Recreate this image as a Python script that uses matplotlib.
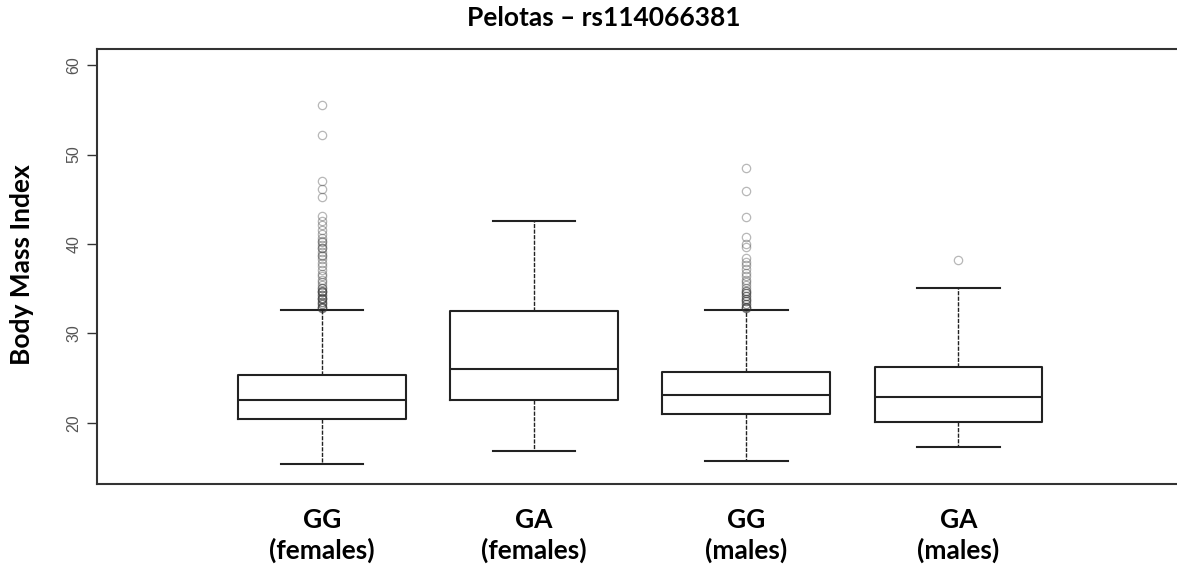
import matplotlib
matplotlib.use("Agg")
import matplotlib.pyplot as plt

# ---- data ----
categories = ["GG\n(females)", "GA\n(females)", "GG\n(males)", "GA\n(males)"]
q1 = [20.45, 22.57, 21.00, 20.10]
median = [22.57, 26.03, 23.13, 22.94]
q3 = [25.36, 32.51, 25.70, 26.26]
whisker_low = [15.42, 16.84, 15.79, 17.35]
whisker_high = [32.63, 42.60, 32.63, 35.12]
outliers_gg_f = [55.5, 52.2, 47.0, 46.1, 45.2, 43.1, 42.6, 42.1, 41.6, 41.1,
                 40.7, 40.3, 40.2, 39.9, 39.6, 39.5, 39.1, 38.8, 38.7, 38.3,
                 37.9, 37.5, 37.1, 36.7, 36.4, 36.0, 35.7, 35.4, 35.1, 35.1,
                 34.8, 34.8, 34.6, 34.6, 34.3, 34.3, 34.0, 34.0, 33.8, 33.8,
                 33.5, 33.5, 33.3, 33.3, 33.0, 33.0, 32.8, 32.8]
outliers_ga_f = []
outliers_gg_m = [48.5, 45.9, 43.0, 40.75, 40.0, 39.7, 38.4, 38.0, 37.6, 37.2,
                 36.8, 36.4, 36.0, 35.7, 35.4, 35.1, 34.8, 34.8, 34.5, 34.5,
                 34.2, 34.2, 33.9, 33.9, 33.6, 33.6, 33.3, 33.3, 33.0, 33.0,
                 32.8, 32.8]
outliers_ga_m = [38.25]
outliers = [outliers_gg_f, outliers_ga_f, outliers_gg_m, outliers_ga_m]
yticks = [20, 30, 40, 50, 60]

title = "Pelotas \u2013 rs114066381"
ylabel = "Body Mass Index"

# ---- figure ----
W, H = 1177, 572
fig = plt.figure(figsize=(W / 100, H / 100), dpi=100)
ax = fig.add_axes([97 / W, (H - 484) / H, (W - 97) / W, (484 - 49) / H])

stats = []
for i in range(len(categories)):
    stats.append(dict(med=median[i], q1=q1[i], q3=q3[i],
                      whislo=whisker_low[i], whishi=whisker_high[i],
                      fliers=outliers[i], label=categories[i]))

line_col = "#222222"
ax.bxp(stats, positions=range(1, len(categories) + 1), widths=0.79,
       showfliers=True,
       boxprops=dict(color=line_col, linewidth=1.5),
       medianprops=dict(color=line_col, linewidth=1.5),
       whiskerprops=dict(color=line_col, linewidth=1.0, linestyle=(0, (3, 1))),
       capprops=dict(color=line_col, linewidth=1.5),
       capwidths=0.39,
       flierprops=dict(marker="o", markerfacecolor="none",
                       markeredgecolor=(0.2, 0.2, 0.2, 0.35),
                       markersize=6, markeredgewidth=0.9, linestyle="none"))

ax.set_xlim(-0.06, 5.03)
ax.set_ylim(13.18, 61.79)

ax.spines["right"].set_visible(False)
for s in ["left", "top", "bottom"]:
    ax.spines[s].set_linewidth(1.5)
    ax.spines[s].set_color("#333333")

ax.set_yticks(yticks)
ax.set_yticklabels([str(t) for t in yticks], rotation=90, va="center",
                   fontsize=11.5, family="Liberation Sans", color="#555555")
ax.tick_params(axis="y", length=7, width=1.0, color="#333333", pad=4)

ax.set_xticks(range(1, len(categories) + 1))
ax.set_xticklabels(categories, fontsize=19, fontweight="bold", family="Lato",
                   linespacing=1.3)
ax.tick_params(axis="x", length=0, pad=17)

fig.text(604 / W, 1 - 18 / H, title, ha="center", va="center",
         fontsize=19, fontweight="bold", family="Lato")
fig.text(22 / W, 1 - 265 / H, ylabel, ha="center", va="center", rotation=90,
         fontsize=19, fontweight="bold", family="Lato")

fig.savefig("out.png", dpi=100)
